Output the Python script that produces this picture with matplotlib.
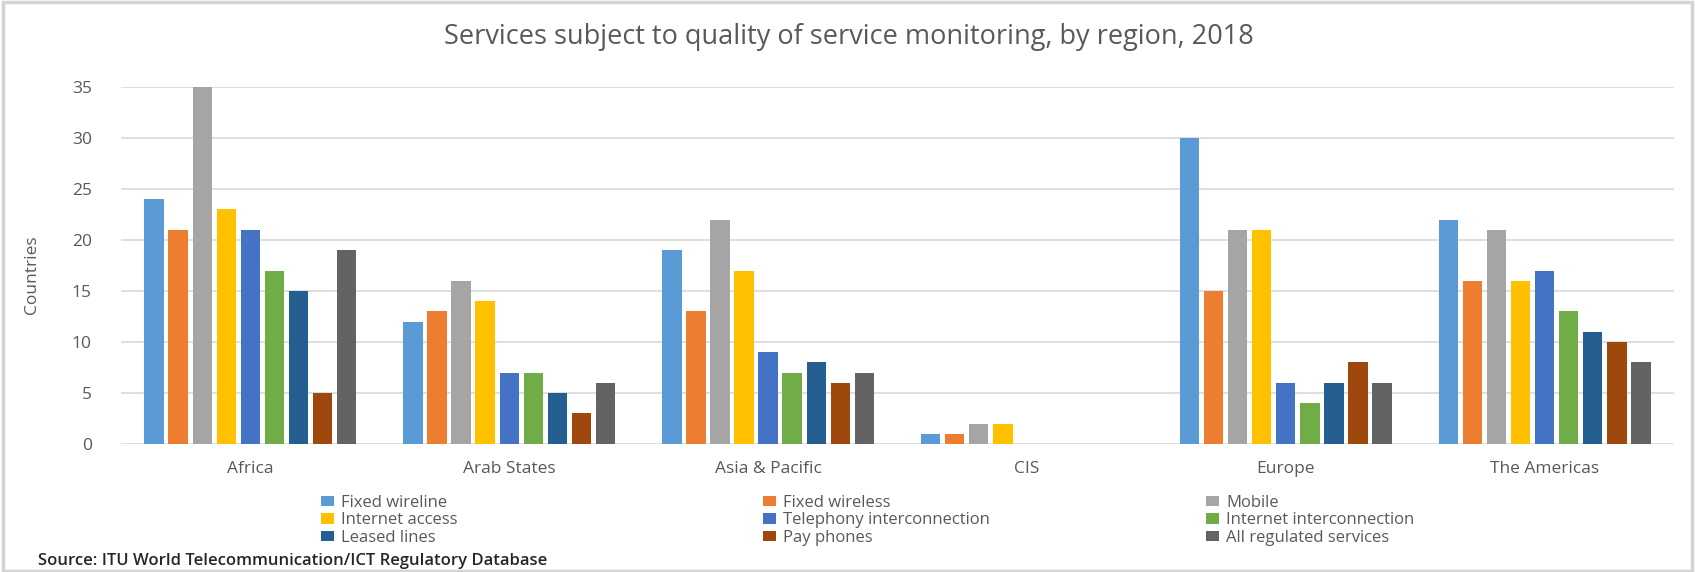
import numpy as np
import matplotlib
matplotlib.use("Agg")
import matplotlib.pyplot as plt
from matplotlib.patches import Rectangle

plt.rcParams["font.family"] = ["Open Sans", "DejaVu Sans"]

regions = ["Africa", "Arab States", "Asia & Pacific", "CIS", "Europe", "The Americas"]
series = ["Fixed wireline", "Fixed wireless", "Mobile", "Internet access",
          "Telephony interconnection", "Internet interconnection",
          "Leased lines", "Pay phones", "All regulated services"]
fixed_wireline = [24, 12, 19, 1, 30, 22]
fixed_wireless = [21, 13, 13, 1, 15, 16]
mobile = [35, 16, 22, 2, 21, 21]
internet_access = [23, 14, 17, 2, 21, 16]
telephony_ic = [21, 7, 9, 0, 6, 17]
internet_ic = [17, 7, 7, 0, 4, 13]
leased_lines = [15, 5, 8, 0, 6, 11]
pay_phones = [5, 3, 6, 0, 8, 10]
all_regulated = [19, 6, 7, 0, 6, 8]
values = [fixed_wireline, fixed_wireless, mobile, internet_access, telephony_ic,
          internet_ic, leased_lines, pay_phones, all_regulated]
colors = ["#5B9BD5", "#ED7D31", "#A5A5A5", "#FFC000", "#4472C4",
          "#70AD47", "#255E91", "#9E480E", "#636363"]

TXT = "#595959"
fig = plt.figure(figsize=(16.97, 5.72), dpi=100)
ax = fig.add_axes([121 / 1697, 1 - 444 / 572, 1553 / 1697, 357 / 572])

x = np.arange(len(regions))
slot, bw = 0.093, 0.075
bars = []
for i, (vals, col) in enumerate(zip(values, colors)):
    b = ax.bar(x + (i - 4) * slot, vals, bw, color=col, linewidth=0, zorder=3, label=series[i])
    bars.append(b)

ax.set_xlim(-0.5, len(regions) - 0.5)
ax.set_ylim(0, 35)
ax.set_yticks(range(0, 36, 5))
ax.grid(axis="y", color="#d9d9d9", lw=1.2, zorder=0)
for s in ax.spines.values():
    s.set_visible(False)
ax.set_xticks(x)
ax.set_xticklabels(regions)
ax.tick_params(axis="both", length=0, labelsize=12.5, labelcolor=TXT)
ax.tick_params(axis="x", pad=12)
ax.tick_params(axis="y", pad=21)
ax.set_ylabel("Countries", fontsize=12.5, color=TXT)
ax.yaxis.set_label_coords(-0.052, 0.473)

fig.text(0.5, 1 - 37 / 572, "Services subject to quality of service monitoring, by region, 2018",
         ha="center", va="center", fontsize=19.5, color=TXT)

# legend: three single-column legends, row-major order like Excel
for c, xpos in enumerate([321, 763, 1206]):
    hs = [bars[c + 3 * r] for r in range(3)]
    fig.legend(handles=hs, labels=[series[c + 3 * r] for r in range(3)],
               loc="upper left", bbox_to_anchor=(xpos / 1697, 1 - 495 / 572),
               frameon=False, fontsize=12, labelcolor=TXT, handlelength=0.8,
               handleheight=0.6, handletextpad=0.4, labelspacing=0.08,
               borderpad=0, borderaxespad=0)

fig.text(38 / 1697, 1 - 561 / 572, "Source: ITU World Telecommunication/ICT Regulatory Database",
         ha="left", va="center", fontsize=12, color="#262626", fontweight="semibold")

fig.patches.append(Rectangle((0.002, 0.002), 0.995, 0.995, transform=fig.transFigure,
                             fill=False, ec="#d4d4d4", lw=2.5))

fig.savefig("out.png", dpi=100)
